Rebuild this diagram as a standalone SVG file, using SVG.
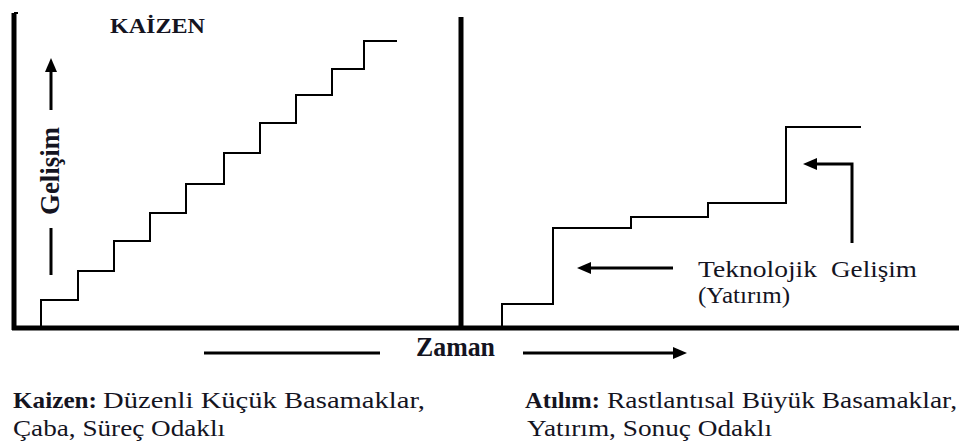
<svg xmlns="http://www.w3.org/2000/svg" width="959" height="448" viewBox="0 0 959 448">
  <style>
    .axis { stroke: #000; stroke-width: 5; fill: none; }
    .step { stroke: #000; stroke-width: 2; fill: none; }
    .arrow { stroke: #000; stroke-width: 3; fill: none; }
    .serif { font-family: "Liberation Serif", "Times New Roman", serif; fill: #14141f; }
    .b { font-weight: bold; }
  </style>
  <defs>
    <marker id="head" markerUnits="userSpaceOnUse" markerWidth="14" markerHeight="12" refX="0" refY="6" orient="auto">
      <path d="M0,0 L14,6 L0,12 z" fill="#000"/>
    </marker>
  </defs>

  <!-- frame: left axis, time axis, divider -->
  <g id="axes">
    <path class="axis" d="M14,13 V330" stroke-width="4"/>
    <path d="M14,13 H18" stroke="#000" stroke-width="2"/>
    <path class="axis" d="M12,328 H959"/>
    <path class="axis" d="M461,17 V330"/>
  </g>

  <!-- small regular steps -->
  <g id="kaizen-steps">
    <path class="step" d="M41,327 V300 H78 V271 H114 V241 H150 V213 H186 V184 H224 V153 H260 V123 H296 V95 H332 V69 H364 V41 H397"/>
  </g>

  <!-- large irregular steps -->
  <g id="breakthrough-steps">
    <path class="step" d="M502,327 V304 H553 V228 H631 V217 H708 V203 H786 V127 H861"/>
  </g>

  <g id="connectors">
    <!-- Gelişim axis arrow -->
    <path class="arrow" d="M51,275 V228" stroke-width="4"/>
    <path class="arrow" d="M51,110 V72" marker-end="url(#head)"/>
    <!-- Teknolojik Gelişim pointers -->
    <path class="arrow" d="M673,268 H591" marker-end="url(#head)"/>
    <path class="arrow" d="M852,243 V164 H817" marker-end="url(#head)"/>
    <!-- Zaman arrow -->
    <path class="arrow" d="M204,353 H380"/>
    <path class="arrow" d="M523,353 H673" marker-end="url(#head)"/>
  </g>

  <g id="labels">
    <text id="title" class="serif b" x="110" y="33" font-size="21" textLength="95" lengthAdjust="spacingAndGlyphs">KAİZEN</text>
    <text id="gelisim" class="serif b" font-size="27" transform="translate(59,215) rotate(-90)" textLength="88" lengthAdjust="spacingAndGlyphs">Gelişim</text>
    <text id="zaman" class="serif b" x="416" y="356" font-size="28" textLength="79" lengthAdjust="spacingAndGlyphs">Zaman</text>
    <g id="tech-label" class="serif" font-size="23">
      <text x="698" y="277" textLength="119" lengthAdjust="spacingAndGlyphs">Teknolojik</text>
      <text x="831" y="277" textLength="86" lengthAdjust="spacingAndGlyphs">Gelişim</text>
      <text x="698" y="303" textLength="92" lengthAdjust="spacingAndGlyphs">(Yatırım)</text>
    </g>
  </g>

  <g id="captions" font-size="23">
    <text class="serif b" x="13" y="408" textLength="84" lengthAdjust="spacingAndGlyphs">Kaizen:</text>
    <text class="serif" x="103" y="408" textLength="322" lengthAdjust="spacingAndGlyphs">Düzenli Küçük Basamaklar,</text>
    <text class="serif" x="13" y="436" textLength="212" lengthAdjust="spacingAndGlyphs">Çaba, Süreç Odaklı</text>
    <text class="serif b" x="525" y="408" textLength="75" lengthAdjust="spacingAndGlyphs">Atılım:</text>
    <text class="serif" x="607" y="408" textLength="350" lengthAdjust="spacingAndGlyphs">Rastlantısal Büyük Basamaklar,</text>
    <text class="serif" x="527" y="436" textLength="245" lengthAdjust="spacingAndGlyphs">Yatırım, Sonuç Odaklı</text>
  </g>
</svg>
